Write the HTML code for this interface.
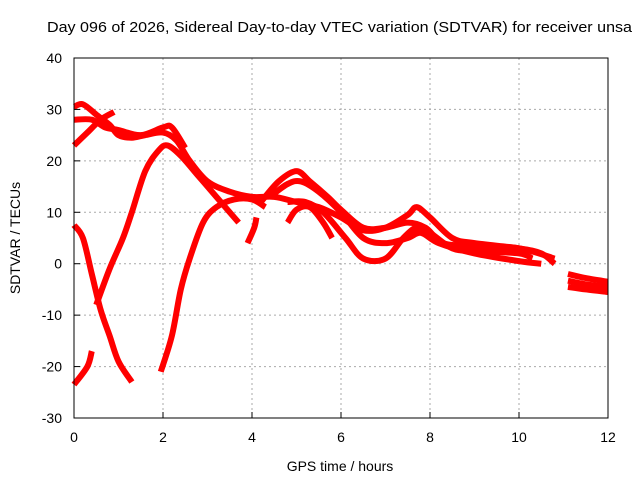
<!DOCTYPE html>
<html><head><meta charset="utf-8"><style>
body{margin:0;background:#fff;}
svg{display:block;font-family:"Liberation Sans",sans-serif;}
</style></head><body>
<svg id="chart" width="640" height="480">
<text x="47" y="32" font-size="15" textLength="585" lengthAdjust="spacingAndGlyphs">Day 096 of 2026, Sidereal Day-to-day VTEC variation (SDTVAR) for receiver unsa</text>
<text x="340" y="471" font-size="14" text-anchor="middle">GPS time / hours</text>
<text x="20" y="238" font-size="14" text-anchor="middle" transform="rotate(-90 20 238)">SDTVAR / TECUs</text>
<g id="grid"></g><g id="series"></g>
<rect x="74" y="58" width="534" height="360" fill="none" stroke="#000" stroke-width="1"/>
<g id="ticks"></g>
</svg>
<script>
const xTicks=[0,2,4,6,8,10,12];
const yTicks=[-30,-20,-10,0,10,20,30,40];
const sA=[[0,30.5],[0.2,31],[0.5,29],[0.8,27],[1.0,25],[1.3,24.5],[1.6,25],[2.0,25.5],[2.3,24],[2.6,20],[3.0,16],[3.5,14],[4.0,13],[4.5,13],[5.0,12],[5.5,11],[6.0,9],[6.5,6.5],[7,7],[7.5,9.5],[7.7,11],[8,9],[8.5,5],[9,4],[10,3],[10.5,2],[10.8,0]];
const sB=[[0,23],[0.3,25.5],[0.6,28],[0.9,29.5]];
const sC=[[0,28],[0.4,28],[0.7,26.5],[1.0,26],[1.5,25],[2.0,26.5],[2.2,26.5],[2.5,22.5]];
const sD=[[0.5,-8],[0.8,-1],[1.1,5],[1.3,10],[1.6,18],[1.9,22],[2.1,23],[2.4,21],[2.8,17],[3.2,13],[3.5,10],[3.7,8]];
const sE=[[0,7.5],[0.2,5],[0.4,-2],[0.6,-9],[0.8,-14],[1.0,-19],[1.3,-23]];
const sF=[[0,-23.5],[0.3,-20],[0.4,-17]];
const sG=[[1.95,-21],[2.2,-14],[2.4,-5],[2.6,1],[2.9,8],[3.2,11],[3.6,12.5],[4.0,12.5],[4.3,11]];
const sH=[[3.9,4],[4.05,7],[4.1,9]];
const sI=[[4.2,12],[4.6,16],[5.0,18],[5.3,16],[5.7,13],[6.0,10.5],[6.5,7],[7.0,7],[7.5,8],[7.9,7],[8.3,4],[9,3.5],[10,3],[10.8,1]];
const sJ=[[4.4,13],[4.8,15.5],[5.1,16],[5.5,14],[6.0,10],[6.5,5],[7,4],[7.5,5],[7.8,6],[8.2,4],[9,2],[10,0.5],[10.5,0]];
const sK=[[4.8,12],[5.2,12],[5.6,10],[6.1,5],[6.5,1],[7.0,1],[7.4,5],[7.7,7],[8.0,6],[8.5,3],[9,2.5],[10,2],[10.3,1]];
const sL=[[4.8,8],[5.0,10.5],[5.3,11],[5.6,8],[5.8,5]];
const sM=[[11.1,-2],[11.5,-2.8],[12,-3.5]];
const sN=[[11.1,-4.5],[11.5,-5],[12,-5.5]];
const sO=[[11.1,-3.3],[11.5,-4],[12,-4.5]];
const allSeries=[sA,sB,sC,sD,sE,sF,sG,sH,sI,sJ,sK,sL,sM,sN,sO];
const NS="http://www.w3.org/2000/svg";
const X=h=>74+h*534/12, Y=v=>58+(40-v)*360/70;
const grid=document.getElementById('grid'),ticks=document.getElementById('ticks'),ser=document.getElementById('series');
function mk(tag,attrs,parent){const e=document.createElementNS(NS,tag);for(const k in attrs)e.setAttribute(k,attrs[k]);parent.appendChild(e);return e;}
function smooth(pts){
 let d='M'+pts[0][0]+','+pts[0][1];
 for(let i=0;i<pts.length-1;i++){
  const p0=pts[i-1]||pts[i],p1=pts[i],p2=pts[i+1],p3=pts[i+2]||p2;
  const c1=[p1[0]+(p2[0]-p0[0])/6,p1[1]+(p2[1]-p0[1])/6];
  const c2=[p2[0]-(p3[0]-p1[0])/6,p2[1]-(p3[1]-p1[1])/6];
  d+=' C'+c1+' '+c2+' '+p2;
 }
 return d;
}
xTicks.forEach(t=>{
 const gl=mk('line',{x1:X(t),x2:X(t),y1:58,y2:418,stroke:'#aaa','stroke-dasharray':'2,3'},grid);
 
 
 const tk=mk('line',{x1:X(t),x2:X(t),y1:418,y2:412,stroke:'#000'},ticks);
 
 
 const tx=mk('text',{x:X(t),y:442,'font-size':14,'text-anchor':'middle'},ticks);tx.textContent=t;
 
 
});
yTicks.forEach(t=>{
 const gl=mk('line',{x1:74,x2:608,y1:Y(t),y2:Y(t),stroke:'#aaa','stroke-dasharray':'2,3'},grid);
 
 
 const tk=mk('line',{x1:74,x2:80,y1:Y(t),y2:Y(t),stroke:'#000'},ticks);
 
 
 const tx=mk('text',{x:62,y:Y(t)+5,'font-size':14,'text-anchor':'end'},ticks);tx.textContent=t;
 
 
});
allSeries.forEach(s=>{
 const p=mk('path',{d:smooth(s.map(d=>[X(d[0]),Y(d[1])])),fill:'none',stroke:'#f00','stroke-width':6,'stroke-linejoin':'round','stroke-linecap':'butt'},ser);
 
 
});
</script>
</body></html>
